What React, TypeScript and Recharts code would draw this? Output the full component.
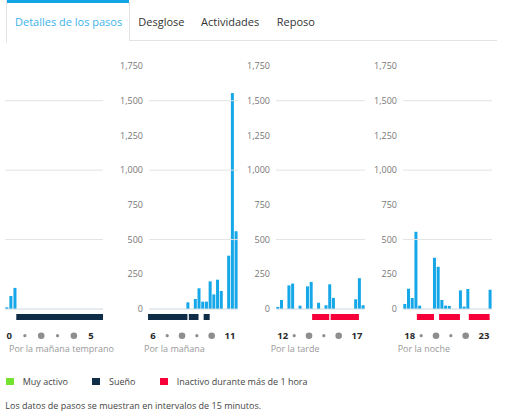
import React from 'react';
import { BarChart, Bar, XAxis, YAxis, ReferenceLine } from 'recharts';

const FONT = '"Open Sans", sans-serif';
const STEP_COLOR = '#15a7e8';
const SLEEP_COLOR = '#0f2d47';
const INACTIVE_COLOR = '#f7003a';
const ACTIVE_COLOR = '#74e22e';

// steps per 15-minute slot (24 slots per 6-hour panel)
const earlyMorningSteps = [12, 94, 152, 0, 0, 0, 0, 0, 0, 0, 0, 0, 0, 0, 0, 0, 0, 0, 0, 0, 0, 0, 0, 0];
const morningSteps = [0, 0, 0, 0, 0, 0, 0, 0, 0, 0, 48, 0, 72, 149, 53, 53, 199, 105, 211, 130, 0, 384, 1555, 560];
const afternoonSteps = [15, 65, 0, 170, 183, 0, 24, 0, 163, 195, 0, 45, 0, 27, 178, 80, 0, 0, 0, 0, 0, 70, 222, 27];
const nightSteps = [36, 146, 79, 556, 24, 0, 0, 0, 369, 304, 65, 24, 22, 0, 0, 134, 17, 144, 0, 0, 0, 0, 0, 139];

// sleep flags per slot
const earlyMorningSleep = [0, 0, 0, 1, 1, 1, 1, 1, 1, 1, 1, 1, 1, 1, 1, 1, 1, 1, 1, 1, 1, 1, 1, 1];
const morningSleep = [1, 1, 1, 1, 1, 1, 1, 1, 1, 1, 0, 1, 1, 0, 0, 1, 0, 0, 0, 0, 0, 0, 0, 0];
const afternoonSleep = [0, 0, 0, 0, 0, 0, 0, 0, 0, 0, 0, 0, 0, 0, 0, 0, 0, 0, 0, 0, 0, 0, 0, 0];
const nightSleep = [0, 0, 0, 0, 0, 0, 0, 0, 0, 0, 0, 0, 0, 0, 0, 0, 0, 0, 0, 0, 0, 0, 0, 0];

// inactive > 1 hour flags per slot
const earlyMorningInactive = [0, 0, 0, 0, 0, 0, 0, 0, 0, 0, 0, 0, 0, 0, 0, 0, 0, 0, 0, 0, 0, 0, 0, 0];
const morningInactive = [0, 0, 0, 0, 0, 0, 0, 0, 0, 0, 0, 0, 0, 0, 0, 0, 0, 0, 0, 0, 0, 0, 0, 0];
const afternoonInactive = [0, 0, 0, 0, 0, 0, 0, 0, 0, 0, 1, 1, 1, 1, 0, 1, 1, 1, 1, 1, 1, 1, 0, 0];
const nightInactive = [0, 0, 0, 0, 1, 1, 1, 1, 0, 0, 1, 1, 1, 1, 1, 0, 0, 0, 1, 1, 1, 1, 1, 0];

const panelNames = ['Por la mañana temprano', 'Por la mañana', 'Por la tarde', 'Por la noche'];
const panelHours = [
  [0, 1, 2, 3, 4, 5],
  [6, 7, 8, 9, 10, 11],
  [12, 13, 14, 15, 16, 17],
  [18, 19, 20, 21, 22, 23],
];
const yTicks = [0, 250, 500, 750, 1000, 1250, 1500, 1750];
const gridValues = [500, 1000, 1500];

const tabs = ['Detalles de los pasos', 'Desglose', 'Actividades', 'Reposo'];
const legendItems = [
  { label: 'Muy activo', color: ACTIVE_COLOR },
  { label: 'Sueño', color: SLEEP_COLOR },
  { label: 'Inactivo durante más de 1 hora', color: INACTIVE_COLOR },
];
const footnote = 'Los datos de pasos se muestran en intervalos de 15 minutos.';

const stepsSeries = [earlyMorningSteps, morningSteps, afternoonSteps, nightSteps];
const sleepSeries = [earlyMorningSleep, morningSleep, afternoonSleep, nightSleep];
const inactiveSeries = [earlyMorningInactive, morningInactive, afternoonInactive, nightInactive];

// layout
const panelLayout = [
  { left: 5, axis: 0, plot: 98, labelX: 9 },
  { left: 110, axis: 39, plot: 89, labelX: 144 },
  { left: 237, axis: 39, plot: 89, labelX: 270.7 },
  { left: 364, axis: 39, plot: 89, labelX: 397.7 },
];
const tabX = [15, 138.3, 201, 276.7];
const legendX = [
  { box: 5.7, text: 22.7 },
  { box: 91.7, text: 109 },
  { box: 160, text: 176.7 },
];

const fmt = (v: number) => v.toLocaleString('en-US');

function HourTick(props: any) {
  const { x, y, payload, hours } = props;
  const h = Math.round(Number(payload.value) / 4);
  const cy = y + 16.7;
  if (h === 0 || h === 5) {
    return (
      <text x={x - 0.5} y={cy} dy="0.35em" textAnchor="start" fontSize={9.5} fontWeight={700} fill="#2a2a2a" fontFamily={FONT}>
        {hours[h]}
      </text>
    );
  }
  const r = h % 2 === 1 ? 1.6 : 3.3;
  return <circle cx={x + 1.5} cy={cy} r={r} fill="#8e8e8e" />;
}

function Panel({ idx }: { idx: number }) {
  const lay = panelLayout[idx];
  const data = stepsSeries[idx].map((s, i) => ({
    slot: i,
    steps: s,
    sleep: sleepSeries[idx][i],
    inactive: inactiveSeries[idx][i],
  }));
  const width = lay.axis + lay.plot;
  return (
    <>
      <div style={{ position: 'absolute', left: lay.left, top: 60 }}>
        <BarChart width={width} height={260} data={data} margin={{ top: 6, right: 0, bottom: 11, left: 0 }} barCategoryGap={0.3}>
          <XAxis dataKey="slot" hide />
          <YAxis
            hide={lay.axis === 0}
            width={lay.axis || 0}
            domain={[0, 1750]}
            ticks={yTicks}
            tickFormatter={fmt}
            axisLine={false}
            tickLine={false}
            tickSize={0}
            tickMargin={6}
            tick={{ fontSize: 9, fill: '#777', fontFamily: FONT }}
            interval={0}
          />
          {gridValues.map((g) => (
            <ReferenceLine key={g} y={g} stroke="#e3e3e3" strokeWidth={1} />
          ))}
          <ReferenceLine y={0} stroke="#cdd8e1" strokeWidth={1} />
          <Bar dataKey="steps" fill={STEP_COLOR} isAnimationActive={false} />
        </BarChart>
      </div>
      <div style={{ position: 'absolute', left: lay.left, top: 314 }}>
        <BarChart width={width} height={35} data={data} margin={{ top: 0, right: 0, bottom: 0, left: lay.axis }} barCategoryGap="1%">
          <XAxis
            dataKey="slot"
            height={30}
            interval={3}
            axisLine={false}
            tickLine={false}
            tickSize={0}
            tickMargin={0}
            tick={(p: any) => <HourTick {...p} hours={panelHours[idx]} />}
          />
          <YAxis hide domain={[0, 1]} />
          <Bar dataKey="sleep" stackId="s" fill={SLEEP_COLOR} stroke={SLEEP_COLOR} strokeWidth={2} isAnimationActive={false} />
          <Bar dataKey="inactive" stackId="s" fill={INACTIVE_COLOR} stroke={INACTIVE_COLOR} strokeWidth={2} isAnimationActive={false} />
        </BarChart>
      </div>
      <div
        style={{
          position: 'absolute',
          left: lay.labelX,
          top: 342,
          lineHeight: '14px',
          fontSize: 9,
          color: '#999',
          fontFamily: FONT,
          whiteSpace: 'nowrap',
        }}
      >
        {panelNames[idx]}
      </div>
    </>
  );
}

export default function App() {
  return (
    <div style={{ position: 'absolute', left: 0, top: 0, width: 507, height: 420, background: '#fff', fontFamily: FONT, overflow: 'hidden' }}>
      {/* tabs */}
      <div style={{ position: 'absolute', left: 6, top: 0, width: 123, height: 3, background: '#12a5e6' }} />
      <div style={{ position: 'absolute', left: 6, top: 0, width: 1, height: 43, background: '#e3e3e3' }} />
      <div style={{ position: 'absolute', left: 129, top: 2, width: 1, height: 39, background: '#e3e3e3' }} />
      <div style={{ position: 'absolute', left: 129, top: 40, width: 368, height: 1, background: '#e3e3e3' }} />
      {tabs.map((t, i) => (
        <div
          key={t}
          style={{
            position: 'absolute',
            left: tabX[i],
            top: 14,
            lineHeight: '16px',
            fontSize: 11,
            color: i === 0 ? '#3db2ea' : '#333',
            whiteSpace: 'nowrap',
          }}
        >
          {t}
        </div>
      ))}

      {[0, 1, 2, 3].map((i) => (
        <Panel key={i} idx={i} />
      ))}

      {/* legend */}
      {legendItems.map((it, i) => (
        <React.Fragment key={it.label}>
          <div style={{ position: 'absolute', left: legendX[i].box, top: 378, width: 8, height: 7, background: it.color }} />
          <div
            style={{
              position: 'absolute',
              left: legendX[i].text,
              top: 374.5,
              lineHeight: '14px',
              fontSize: 9,
              color: '#444',
              whiteSpace: 'nowrap',
            }}
          >
            {it.label}
          </div>
        </React.Fragment>
      ))}
      <div
        style={{
          position: 'absolute',
          left: 5.3,
          top: 398.7,
          lineHeight: '14px',
          fontSize: 9,
          color: '#444',
          whiteSpace: 'nowrap',
        }}
      >
        {footnote}
      </div>
    </div>
  );
}
